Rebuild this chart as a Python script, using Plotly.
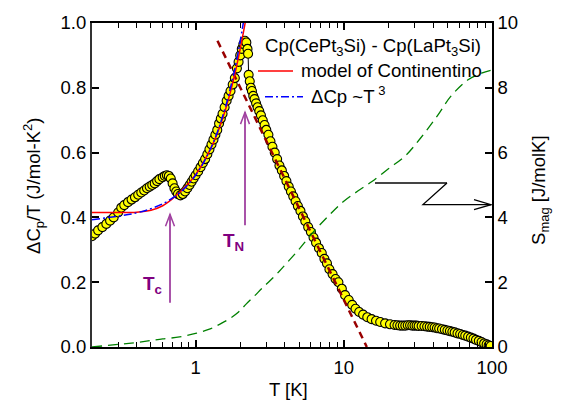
import plotly.graph_objects as go

# ---- data ----
T_data = [0.20, 0.21, 0.22, 0.235, 0.25, 0.265, 0.28, 0.30, 0.315, 0.33, 0.35, 0.37, 0.39, 0.41,
          0.43, 0.45, 0.47, 0.49, 0.51, 0.53, 0.55, 0.57, 0.60, 0.62, 0.64, 0.66, 0.68, 0.70,
          0.72, 0.74, 0.76, 0.79, 0.82, 0.85, 0.88, 0.91, 0.94, 0.97, 1.0, 1.04, 1.08, 1.12,
          1.16, 1.2, 1.24, 1.28, 1.32, 1.36, 1.40, 1.44, 1.48, 1.52, 1.57, 1.62, 1.67, 1.72,
          1.78, 1.84, 1.90, 1.95, 2.0, 2.05, 2.1, 2.15, 2.2, 2.24, 2.26, 2.28, 2.32, 2.36, 2.40,
          2.45, 2.5, 2.56, 2.62, 2.69, 2.76, 2.84, 2.92, 3.0, 3.1, 3.2, 3.3, 3.42, 3.55, 3.68,
          3.82, 3.96, 4.1, 4.25, 4.4, 4.56, 4.73, 4.9, 5.1, 5.3, 5.5, 5.75, 6.0, 6.25, 6.5, 6.8,
          7.1, 7.4, 7.7, 8.0, 8.4, 8.8, 9.2, 9.7, 10.2, 10.8, 11.4, 12.0, 12.7, 13.5, 14.4, 15.4,
          16.5, 17.6, 19.0, 20.5, 22, 23, 24, 25, 26, 27, 28, 29, 30, 31, 32, 33.5, 35, 36.5, 38,
          39.5, 41, 42.5, 44, 46, 48, 50, 52, 54, 56, 58.5, 61, 63.5, 66, 69, 72, 75, 78, 81.5,
          85, 88.5, 92, 95, 98]
Cp_over_T = [0.342, 0.35, 0.36, 0.37, 0.38, 0.39, 0.40, 0.415, 0.43, 0.438, 0.447, 0.455, 0.462,
             0.47, 0.477, 0.483, 0.49, 0.495, 0.50, 0.505, 0.512, 0.518, 0.524, 0.528, 0.53, 0.528,
             0.52, 0.505, 0.49, 0.48, 0.472, 0.468, 0.472, 0.48, 0.49, 0.50, 0.51, 0.52, 0.53,
             0.542, 0.555, 0.568, 0.58, 0.595, 0.61, 0.625, 0.64, 0.655, 0.67, 0.69, 0.705, 0.72,
             0.74, 0.76, 0.775, 0.79, 0.81, 0.83, 0.86, 0.88, 0.90, 0.92, 0.935, 0.945, 0.94,
             0.92, 0.905, 0.84, 0.82, 0.80, 0.79, 0.775, 0.765, 0.752, 0.74, 0.728, 0.715, 0.70,
             0.685, 0.67, 0.655, 0.635, 0.618, 0.60, 0.58, 0.56, 0.545, 0.528, 0.512, 0.495, 0.48,
             0.465, 0.45, 0.435, 0.42, 0.403, 0.388, 0.37, 0.355, 0.338, 0.322, 0.305, 0.29,
             0.272, 0.258, 0.24, 0.225, 0.21, 0.2, 0.18, 0.16, 0.145, 0.13, 0.118, 0.108, 0.10,
             0.092, 0.086, 0.081, 0.077, 0.073, 0.07, 0.068, 0.067, 0.066, 0.066, 0.066, 0.067,
             0.067, 0.066, 0.066, 0.066, 0.065, 0.065, 0.064, 0.063, 0.062, 0.061, 0.06, 0.058,
             0.057, 0.055, 0.053, 0.051, 0.049, 0.047, 0.045, 0.042, 0.04, 0.037, 0.035, 0.032,
             0.029, 0.026, 0.022, 0.019, 0.015, 0.011, 0.008, 0.005, 0.003]

T_model = [0.2, 0.3, 0.4, 0.5, 0.6, 0.7, 0.8, 0.9, 1.0, 1.1, 1.2, 1.3, 1.4, 1.5, 1.6, 1.7,
           1.8, 1.9, 2.0, 2.1, 2.2]
model_continentino = [0.415, 0.415, 0.416, 0.422, 0.436, 0.458, 0.482, 0.506, 0.532, 0.561,
                      0.592, 0.624, 0.659, 0.697, 0.737, 0.779, 0.824, 0.871, 0.92, 0.97, 1.02]

T_cubic = [0.2, 0.3, 0.4, 0.5, 0.6, 0.7, 0.8, 0.9, 1.0, 1.1, 1.2, 1.3, 1.4, 1.5, 1.6, 1.7,
           1.8, 1.9, 2.0, 2.1]
fit_T3 = [0.393, 0.404, 0.414, 0.427, 0.442, 0.460, 0.480, 0.504, 0.530, 0.559, 0.591, 0.625,
          0.662, 0.703, 0.745, 0.791, 0.839, 0.890, 0.944, 1.001]

T_log_line = [1.405, 14.3]
log_line = [0.945, 0.0]

T_S = [0.2, 0.3, 0.4, 0.5, 0.6, 0.78, 1.0, 1.24, 1.45, 1.69, 1.95, 2.2, 2.5, 2.82, 3.2, 3.66,
       4.14, 5.0, 6.1, 7.93, 10, 12.5, 15.4, 20, 26, 33, 43, 53, 69, 85, 100]
S_mag = [0.0, 0.08, 0.14, 0.2, 0.25, 0.31, 0.42, 0.55, 0.7, 0.87, 1.08, 1.33, 1.58, 1.82,
         2.06, 2.33, 2.6, 3.02, 3.5, 4.06, 4.5, 4.82, 5.1, 5.5, 5.9, 6.45, 7.15, 7.75, 8.25,
         8.45, 8.55]

x_tickvals = [1, 10, 100]
x_ticktext = ["1", "10", "100"]
x_minor = [0.2, 0.3, 0.4, 0.5, 0.6, 0.7, 0.8, 0.9, 2, 3, 4, 5, 6, 7, 8, 9,
           20, 30, 40, 50, 60, 70, 80, 90]

FONT = "Liberation Sans, Arial, sans-serif"

# plot area in pixels: x 92..492, y 17..347
def px(x):
    return (x - 92) / 400.0

def py(y):
    return (347 - y) / 330.0

fig = go.Figure()

fig.add_trace(go.Scatter(
    x=T_data, y=Cp_over_T, mode="lines+markers",
    line=dict(color="black", width=1),
    marker=dict(size=9, color="#FFFF00", line=dict(color="black", width=1.1)),
    showlegend=False))

fig.add_trace(go.Scatter(
    x=T_S, y=S_mag, yaxis="y2", mode="lines", line_shape="spline",
    line=dict(color="#008000", width=1.3, dash="10px,6px"), showlegend=False))

fig.add_trace(go.Scatter(
    x=T_log_line, y=log_line, mode="lines",
    line=dict(color="#990000", width=2.5, dash="7px,5px"), showlegend=False))

fig.add_trace(go.Scatter(
    x=T_model, y=model_continentino, mode="lines", line_shape="spline",
    line=dict(color="#FF0000", width=1.5), showlegend=False))

fig.add_trace(go.Scatter(
    x=T_cubic, y=fit_T3, mode="lines", line_shape="spline",
    line=dict(color="#0000FF", width=1.5, dash="8px,3px,2px,3px"), showlegend=False))

shapes = []
# legend samples
shapes.append(dict(type="line", xref="paper", yref="paper", x0=px(258), x1=px(293),
                   y0=py(66), y1=py(66), line=dict(color="#FF0000", width=1.5)))
shapes.append(dict(type="line", xref="paper", yref="paper", x0=px(265), x1=px(303),
                   y0=py(92), y1=py(92), line=dict(color="#0000FF", width=1.5, dash="8px,3px,2px,3px")))

purple = "#A040A0"
# T_N arrow
shapes.append(dict(type="line", xref="paper", yref="paper", x0=px(245), x1=px(245),
                   y0=py(223), y1=py(108), line=dict(color=purple, width=1.8)))
shapes.append(dict(type="path", xref="paper", yref="paper",
                   path=f"M {px(240.5)},{py(120)} L {px(245)},{py(108)} L {px(249.5)},{py(120)}",
                   line=dict(color=purple, width=1.5)))
# T_c arrow
shapes.append(dict(type="line", xref="paper", yref="paper", x0=px(170), x1=px(170),
                   y0=py(302), y1=py(212), line=dict(color=purple, width=1.8)))
shapes.append(dict(type="path", xref="paper", yref="paper",
                   path=f"M {px(165.5)},{py(224)} L {px(170)},{py(212)} L {px(174.5)},{py(224)}",
                   line=dict(color=purple, width=1.5)))
# Z-shaped arrow to the entropy axis
shapes.append(dict(type="line", xref="paper", yref="paper", x0=px(375), x1=px(447),
                   y0=py(180), y1=py(180), line=dict(color="#444444", width=2)))
shapes.append(dict(type="path", xref="paper", yref="paper",
                   path=f"M {px(447)},{py(180)} L {px(423)},{py(202)} L {px(491)},{py(202)}",
                   line=dict(color="black", width=1.3)))
shapes.append(dict(type="path", xref="paper", yref="paper",
                   path=f"M {px(474)},{py(197)} L {px(491)},{py(202)} L {px(474)},{py(207)}",
                   line=dict(color="black", width=1.3)))

LEG = 18.6
annotations = [
    dict(xref="paper", yref="paper", x=px(263), y=py(41), xanchor="left", yanchor="middle",
         text="Cp(CePt<sub>3</sub>Si) - Cp(LaPt<sub>3</sub>Si)", showarrow=False,
         font=dict(family=FONT, size=LEG, color="black")),
    dict(xref="paper", yref="paper", x=px(299), y=py(65), xanchor="left", yanchor="middle",
         text="model of Continentino", showarrow=False,
         font=dict(family=FONT, size=LEG, color="black")),
    dict(xref="paper", yref="paper", x=px(309), y=py(90), xanchor="left", yanchor="middle",
         text="ΔCp ~T<sup> 3</sup>", showarrow=False,
         font=dict(family=FONT, size=LEG, color="black")),
    dict(xref="paper", yref="paper", x=px(221), y=py(240), xanchor="left", yanchor="middle",
         text="<b>T<sub>N</sub></b>", showarrow=False,
         font=dict(family=FONT, size=19, color="#800080")),
    dict(xref="paper", yref="paper", x=px(141), y=py(284), xanchor="left", yanchor="middle",
         text="<b>T<sub>c</sub></b>", showarrow=False,
         font=dict(family=FONT, size=19, color="#800080")),
    dict(xref="paper", yref="paper", x=px(34), y=py(183), xanchor="center", yanchor="middle",
         text="ΔC<sub>p</sub>/T (J/mol-K<sup>2</sup>)", textangle=-90, showarrow=False,
         font=dict(family=FONT, size=18.5, color="black")),
    dict(xref="paper", yref="paper", x=px(540), y=py(188), xanchor="center", yanchor="middle",
         text="S<sub>mag</sub> [J/molK]", textangle=-90, showarrow=False,
         font=dict(family=FONT, size=18.5, color="black")),
    dict(xref="paper", yref="paper", x=px(288), y=py(390), xanchor="center", yanchor="middle",
         text="T [K]", showarrow=False,
         font=dict(family=FONT, size=18.5, color="black")),
]

fig.update_layout(
    width=568, height=408,
    margin=dict(l=92, r=76, t=17, b=61),
    paper_bgcolor="white", plot_bgcolor="white",
    font=dict(family=FONT, size=18, color="black"),
    showlegend=False,
    shapes=shapes, annotations=annotations,
    xaxis=dict(type="log", range=[-0.69897, 2.0], tickvals=x_tickvals, ticktext=x_ticktext,
               ticks="inside", ticklen=7, tickwidth=1.5, tickcolor="black",
               showline=True, linecolor="black", linewidth=2, mirror="ticks",
               showgrid=False, zeroline=False, tickfont=dict(size=18.5),
               ticklabelstandoff=3,
               minor=dict(tickvals=x_minor, ticks="inside", ticklen=5, tickwidth=1.2,
                          tickcolor="black", showgrid=False)),
    yaxis=dict(range=[0, 1.0], dtick=0.2, tickformat=".1f", ticks="inside", ticklen=7,
               tickwidth=1.5, tickcolor="black", showline=True, linecolor="#333333",
               linewidth=2, showgrid=False, zeroline=False, tickfont=dict(size=18.5)),
    yaxis2=dict(overlaying="y", side="right", range=[0, 10], dtick=2, ticks="inside",
                ticklen=7, tickwidth=1.5, tickcolor="black", showline=True,
                linecolor="black", linewidth=1.5, showgrid=False, zeroline=False,
                tickfont=dict(size=18.5)),
)

fig.write_html("out.html")
